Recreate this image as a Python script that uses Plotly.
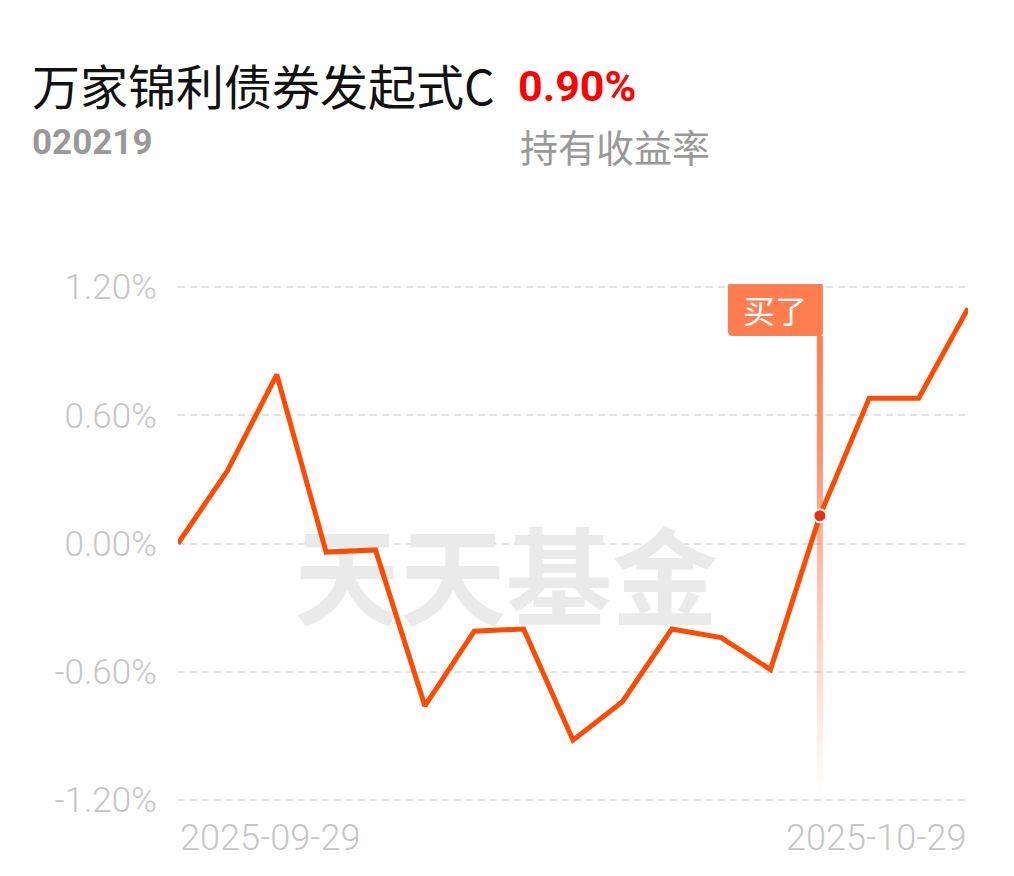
import plotly.graph_objects as go

# trading days shown on the chart
dates = ["2025-09-29", "2025-09-30", "2025-10-09", "2025-10-10", "2025-10-13",
         "2025-10-14", "2025-10-15", "2025-10-16", "2025-10-17", "2025-10-20",
         "2025-10-21", "2025-10-22", "2025-10-23", "2025-10-24", "2025-10-27",
         "2025-10-28", "2025-10-29"]
returns = [0.00, 0.34, 0.79, -0.04, -0.03, -0.76, -0.41, -0.40, -0.92, -0.74,
           -0.40, -0.44, -0.59, 0.13, 0.68, 0.68, 1.10]
y_ticks = [-1.2, -0.6, 0.0, 0.6, 1.2]
y_labels = ["-1.20%", "-0.60%", "0.00%", "0.60%", "1.20%"]

fund_name = "万家锦利债券发起式C"
fund_code = "020219"
hold_return = "0.90%"
hold_label = "持有收益率"
buy_date = "2025-10-24"
buy_text = "买了"
watermark = "天天基金"

W, H = 1014, 876
OFF = 8  # page body margin
# gridline extent in window pixels
X0, X1, Y0, Y1 = 178, 968, 287, 800
PADPX = 3  # so the edge gridlines still get drawn
LINE = "#ff4b00"
BUY = "#ff7d4f"
TICK = "#c6c6c6"
CJK = "Noto Sans CJK SC"


def px(x):
    return (x - X0) / (X1 - X0)


def py(y):
    return (Y1 + PADPX - y) / (Y1 - Y0 + 2 * PADPX)


xs = list(range(len(dates)))
bi = dates.index(buy_date)
ymin, ymax = y_ticks[0], y_ticks[-1]
yspan = (Y1 - Y0) / (ymax - ymin)  # pixels per unit
xstep = (X1 - X0) / (len(dates) - 1)

fig = go.Figure()

# watermark, under the line
fig.add_trace(go.Scatter(
    x=[px(506) * (len(dates) - 1)], y=[ymax - (590 - Y0) / yspan],
    mode="text", text=[watermark],
    textfont=dict(family=CJK, size=106, color="#eaeaea", weight="bold"),
    hoverinfo="skip"))

# fading guide line under the "买了" flag
hw = 3 / xstep
top = ymax - (336 - Y0) / yspan
bot = ymax - (795 - Y0) / yspan
fig.add_trace(go.Scatter(
    x=[bi - hw, bi + hw, bi + hw, bi - hw, bi - hw],
    y=[bot, bot, top, top, bot],
    mode="lines", line=dict(width=0), fill="toself",
    fillgradient=dict(type="vertical", colorscale=[
        [0, "rgba(255,125,79,0)"], [0.45, "rgba(255,125,79,0.45)"],
        [0.75, "rgba(255,125,79,0.85)"], [1, "rgba(255,125,79,1)"]]),
    hoverinfo="skip"))

fig.add_trace(go.Scatter(
    x=xs, y=returns, mode="lines",
    line=dict(color=LINE, width=5),
    hoverinfo="skip"))

fig.add_trace(go.Scatter(
    x=[bi], y=[returns[bi]], mode="markers",
    marker=dict(size=13, color="#ec2f12", line=dict(color="white", width=2)),
    hoverinfo="skip"))

# flag box with rounded corners (pixel path anchored at the buy point)
fig.add_shape(
    type="path", xref="x", yref="y", xsizemode="pixel", ysizemode="pixel",
    xanchor=bi, yanchor=ymax,
    path="M -87,5 L -2,5 Q 3,5 3,0 L 3,-46 Q 3,-49 0,-49 L -87,-49 "
         "Q -92,-49 -92,-44 L -92,0 Q -92,5 -87,5 Z",
    fillcolor=BUY, line=dict(width=0), layer="above")

ann = [
    dict(x=bi, y=ymax, xref="x", yref="y", xshift=-45, yshift=-22,
         text=buy_text, showarrow=False, xanchor="center", yanchor="middle",
         font=dict(family=CJK, size=32, color="white")),
    dict(x=px(30), y=py(84), text=fund_name, xanchor="left", yanchor="middle",
         font=dict(family=CJK, size=48, color="#111111")),
    dict(x=px(516), y=py(86), text=hold_return, xanchor="left", yanchor="middle",
         font=dict(family="Roboto", size=43, color="#ff0000", weight="bold")),
    dict(x=px(30), y=py(143), text=fund_code, xanchor="left", yanchor="middle",
         font=dict(family="Roboto", size=35, color="#999999", weight="bold")),
    dict(x=px(518), y=py(145), text=hold_label, xanchor="left", yanchor="middle",
         font=dict(family=CJK, size=38, color="#999999")),
    dict(x=0, y=py(838), xref="x", text=dates[0], xanchor="left", yanchor="middle",
         font=dict(family="Roboto", size=36, color=TICK, weight=300)),
    dict(x=len(dates) - 1, y=py(838), xref="x", text=dates[-1], xanchor="right",
         yanchor="middle", font=dict(family="Roboto", size=36, color=TICK, weight=300)),
]
for a in ann:
    a.setdefault("xref", "paper")
    a.setdefault("yref", "paper")
    a.setdefault("showarrow", False)
    fig.add_annotation(**a)

fig.update_layout(
    width=W, height=H,
    margin=dict(l=X0 - OFF, r=W - (X1 - OFF),
                t=Y0 - OFF - PADPX, b=H - (Y1 - OFF) - PADPX),
    paper_bgcolor="white", plot_bgcolor="white",
    showlegend=False,
    xaxis=dict(range=[0, len(dates) - 1], showgrid=False, zeroline=False,
               showticklabels=False, showline=False, fixedrange=True),
    yaxis=dict(range=[ymin - PADPX / yspan, ymax + PADPX / yspan],
               tickvals=y_ticks, ticktext=y_labels,
               showgrid=True, gridcolor="#e2e2e2", gridwidth=2,
               griddash="7px,5px", zeroline=False, showline=False,
               ticklabelstandoff=20,
               tickfont=dict(family="Roboto", size=35, color=TICK, weight=300),
               fixedrange=True),
)

fig.write_html("out.html")
